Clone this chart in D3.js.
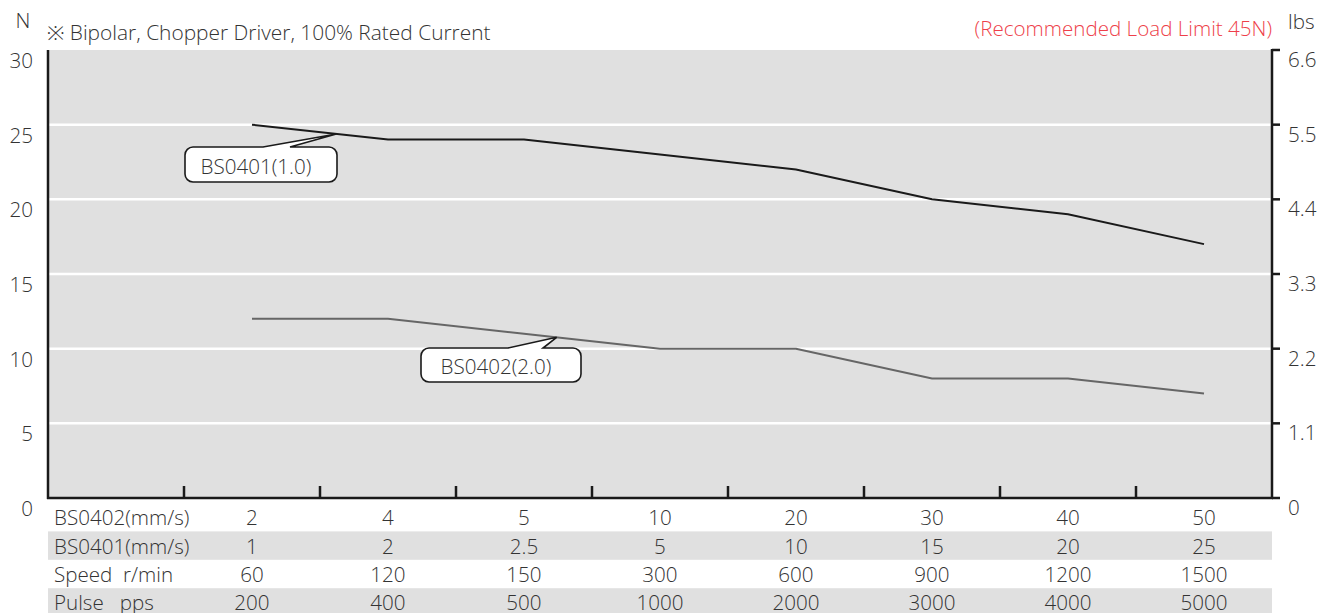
<!DOCTYPE html>
<html>
<head>
<meta charset="utf-8">
<script src="https://cdn.jsdelivr.net/npm/d3@7"></script>
<style>
  html, body { margin: 0; padding: 0; background: #fff; }
  svg { display: block; }
  text { font-family: "Open Sans", "Noto Sans", sans-serif; font-weight: 300; fill: #333; }
</style>
</head>
<body>
<svg id="chart" width="1320" height="613"></svg>
<script>
// ---- data ----
const speedBS0402 = ["2", "4", "5", "10", "20", "30", "40", "50"];
const speedBS0401 = ["1", "2", "2.5", "5", "10", "15", "20", "25"];
const speedRpm    = ["60", "120", "150", "300", "600", "900", "1200", "1500"];
const pulsePps    = ["200", "400", "500", "1000", "2000", "3000", "4000", "5000"];
const rowLabels   = ["BS0402(mm/s)", "BS0401(mm/s)", "Speed  r/min", "Pulse   pps"];

const thrustBS0401 = [25, 24, 24, 23, 22, 20, 19, 17];   // N
const thrustBS0402 = [12, 12, 11, 10, 10, 8, 8, 7];      // N

const leftTicks  = [0, 5, 10, 15, 20, 25, 30];
const rightTicks = ["0", "1.1", "2.2", "3.3", "4.4", "5.5", "6.6"];

const seriesNames = ["BS0401(1.0)", "BS0402(2.0)"];

// ---- layout ----
const svg = d3.select("#chart");
const plotL = 48, plotR = 1272, plotT = 50, plotB = 498;
const rowH = 28.4;
const fs = 20.6;

// nine equal columns: one header column for row labels + eight speed columns
const cols = ["label"].concat(d3.range(speedBS0402.length));
const xBand = d3.scaleBand().domain(cols).range([plotL, plotR]).padding(0);
const xc = i => xBand(i) + xBand.bandwidth() / 2;

const y  = d3.scaleLinear().domain([0, 30]).range([plotB, plotT]);
const yR = d3.scaleLinear().domain([0, 6.6]).range([plotB, plotT]);

// plot background
svg.append("rect")
  .attr("x", plotL).attr("y", plotT)
  .attr("width", plotR - plotL).attr("height", plotB - plotT)
  .attr("fill", "#e0e0e0");

// white gridlines
svg.append("g").selectAll("line")
  .data(leftTicks.filter(d => d > 0 && d < 30))
  .join("line")
  .attr("x1", plotL).attr("x2", plotR)
  .attr("y1", d => y(d)).attr("y2", d => y(d))
  .attr("stroke", "#fff").attr("stroke-width", 2.5);

// table row backgrounds (alternating)
const tableRows = [speedBS0402, speedBS0401, speedRpm, pulsePps];
const tableTop = plotB + 4;
svg.append("g").selectAll("rect")
  .data(tableRows.map((r, i) => i).filter(i => i % 2 === 1))
  .join("rect")
  .attr("x", plotL).attr("width", plotR - plotL)
  .attr("y", i => tableTop + i * rowH + 1).attr("height", rowH)
  .attr("fill", "#e0e0e0");

// table text
const tg = svg.append("g").attr("font-size", fs);
tableRows.forEach((row, r) => {
  const cy = tableTop + r * rowH + rowH / 2 + 1;
  tg.append("text")
    .attr("x", plotL + 6).attr("y", cy)
    .attr("dominant-baseline", "central")
    .style("white-space", "pre")
    .text(rowLabels[r]);
  tg.selectAll(null).data(row).join("text")
    .attr("x", (d, i) => xc(i)).attr("y", cy)
    .attr("text-anchor", "middle")
    .attr("dominant-baseline", "central")
    .text(d => d);
});

// series lines
const line = d3.line().x((d, i) => xc(i)).y(d => y(d));
svg.append("path").datum(thrustBS0402)
  .attr("d", line).attr("fill", "none")
  .attr("stroke", "#666").attr("stroke-width", 2);
svg.append("path").datum(thrustBS0401)
  .attr("d", line).attr("fill", "none")
  .attr("stroke", "#1a1a1a").attr("stroke-width", 2);

// axes frame: left, bottom, right
const axisColor = "#1a1a1a";
svg.append("line").attr("x1", plotL).attr("x2", plotL).attr("y1", plotT).attr("y2", plotB + 1)
  .attr("stroke", axisColor).attr("stroke-width", 2.5);
svg.append("line").attr("x1", plotL - 1).attr("x2", plotR + 1).attr("y1", plotB).attr("y2", plotB)
  .attr("stroke", axisColor).attr("stroke-width", 2.5);
svg.append("line").attr("x1", plotR).attr("x2", plotR).attr("y1", plotT - 1).attr("y2", plotB + 1)
  .attr("stroke", axisColor).attr("stroke-width", 2.5);

// bottom ticks at column boundaries
svg.append("g").selectAll("line")
  .data(d3.range(speedBS0402.length))
  .join("line")
  .attr("x1", i => xBand(i)).attr("x2", i => xBand(i))
  .attr("y1", plotB).attr("y2", plotB - 12)
  .attr("stroke", axisColor).attr("stroke-width", 2.5);

// right ticks
svg.append("g").selectAll("line")
  .data(rightTicks)
  .join("line")
  .attr("x1", plotR).attr("x2", plotR + 8)
  .attr("y1", d => yR(+d)).attr("y2", d => yR(+d))
  .attr("stroke", axisColor).attr("stroke-width", 2.5);

// axis labels
const ag = svg.append("g").attr("font-size", fs);
ag.selectAll(".ly").data(leftTicks).join("text")
  .attr("x", 33).attr("y", d => y(d) + 10)
  .attr("text-anchor", "end").attr("dominant-baseline", "central")
  .text(d => d);
ag.selectAll(".ry").data(rightTicks).join("text")
  .attr("x", 1288).attr("y", d => yR(+d) + 9)
  .attr("dominant-baseline", "central")
  .text(d => d);

ag.append("text").attr("x", 23).attr("y", 20)
  .attr("text-anchor", "middle").attr("dominant-baseline", "central").text("N");
ag.append("text").attr("x", 1288).attr("y", 21)
  .attr("dominant-baseline", "central").text("lbs");
ag.append("text").attr("x", 47).attr("y", 32)
  .attr("dominant-baseline", "central")
  .attr("font-size", fs + 0.3)
  .text("※ Bipolar, Chopper Driver, 100% Rated Current");
ag.append("text").attr("x", 1272).attr("y", 28)
  .attr("text-anchor", "end").attr("dominant-baseline", "central")
  .style("fill", "#ee3f4a")
  .text("(Recommended Load Limit 45N)");

// callouts: rounded box with a wedge pointing at a spot on the series line
function callout(series, seg, t, box, wedge, label) {
  const ax = xc(seg) + (xc(seg + 1) - xc(seg)) * t;
  const ay = y(series[seg] + (series[seg + 1] - series[seg]) * t);
  const { x, y: by, w, h } = box;
  const r = 8;
  const w0 = x + wedge[0], w1 = x + wedge[1];
  const p = d3.path();
  p.moveTo(x + r, by);
  p.lineTo(w0, by);
  p.lineTo(ax, ay);
  p.lineTo(w1, by);
  p.lineTo(x + w - r, by);
  p.arcTo(x + w, by, x + w, by + r, r);
  p.lineTo(x + w, by + h - r);
  p.arcTo(x + w, by + h, x + w - r, by + h, r);
  p.lineTo(x + r, by + h);
  p.arcTo(x, by + h, x, by + h - r, r);
  p.lineTo(x, by + r);
  p.arcTo(x, by, x + r, by, r);
  p.closePath();
  svg.append("path").attr("d", p.toString())
    .attr("fill", "#fff").attr("stroke", "#1a1a1a").attr("stroke-width", 1.6)
    .attr("stroke-linejoin", "miter");
  svg.append("text")
    .attr("x", x + w / 2 - 5).attr("y", by + h / 2 + 1)
    .attr("text-anchor", "middle").attr("dominant-baseline", "central")
    .attr("font-size", fs)
    .text(label);
}

callout(thrustBS0401, 0, 0.62, { x: 185, y: 147, w: 152, h: 35 }, [78, 105], seriesNames[0]);
callout(thrustBS0402, 2, 0.24, { x: 421, y: 348, w: 160, h: 34 }, [87, 122], seriesNames[1]);
</script>
</body>
</html>
